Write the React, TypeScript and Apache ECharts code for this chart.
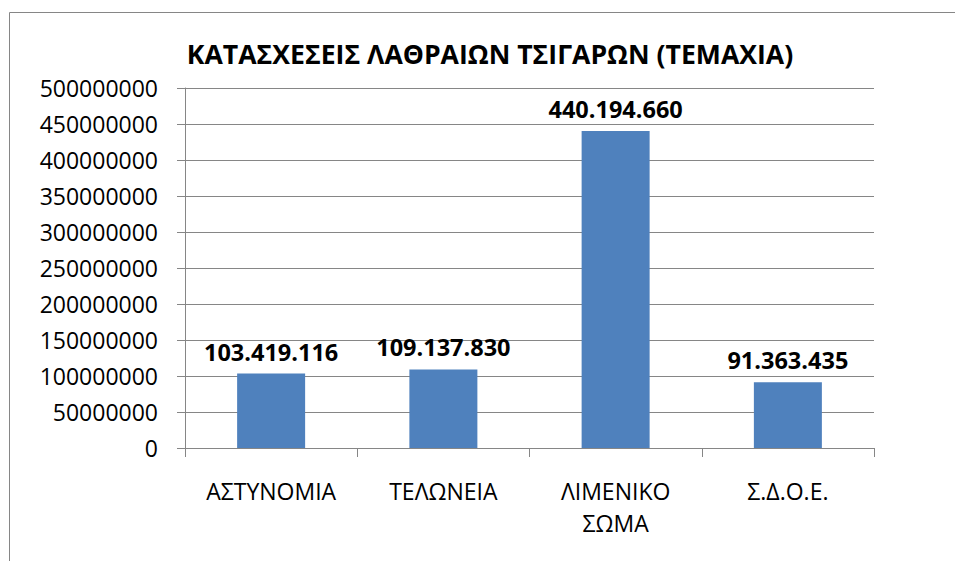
import React, { useEffect, useRef } from "react";
import * as echarts from "echarts";

const titleText = "ΚΑΤΑΣΧΕΣΕΙΣ ΛΑΘΡΑΙΩΝ ΤΣΙΓΑΡΩΝ (ΤΕΜΑΧΙΑ)";
const categories = ["ΑΣΤΥΝΟΜΙΑ", "ΤΕΛΩΝΕΙΑ", "ΛΙΜΕΝΙΚΟ ΣΩΜΑ", "Σ.Δ.Ο.Ε."];
const seizures = [103419116, 109137830, 440194660, 91363435];
const yMin = 0;
const yMax = 500000000;
const yStep = 50000000;

const FONT = "'Open Sans', 'Noto Sans', sans-serif";
const GRAY = "#868686";

function greekThousands(v: number): string {
  return String(v).replace(/\B(?=(\d{3})+(?!\d))/g, ".");
}

export default function App() {
  const ref = useRef<HTMLDivElement>(null);
  useEffect(() => {
    if (!ref.current) return;
    const chart = echarts.init(ref.current, null, { renderer: "svg" });
    chart.setOption({
      animation: false,
      backgroundColor: "#ffffff",
      title: {
        text: titleText,
        left: 485,
        top: 35,
        textAlign: "center",
        textStyle: {
          fontFamily: FONT,
          fontSize: 26.6,
          fontWeight: "bold",
          color: "#000000",
        },
      },
      graphic: [
        {
          type: "line",
          shape: { x1: 9.5, y1: 12.5, x2: 955, y2: 12.5 },
          style: { stroke: GRAY, lineWidth: 1 },
        },
        {
          type: "line",
          shape: { x1: 9.5, y1: 12.5, x2: 9.5, y2: 561 },
          style: { stroke: GRAY, lineWidth: 1 },
        },
      ],
      grid: { left: 185, top: 88, right: 81, bottom: 113, containLabel: false },
      xAxis: {
        type: "category",
        data: categories,
        boundaryGap: true,
        axisLine: { show: true, lineStyle: { color: GRAY, width: 1 } },
        axisTick: {
          show: true,
          alignWithLabel: false,
          length: 9,
          lineStyle: { color: GRAY, width: 1 },
        },
        axisLabel: {
          fontFamily: FONT,
          fontSize: 23,
          color: "#000000",
          margin: 27,
          lineHeight: 32,
          verticalAlign: "top",
          formatter: (v: string) => v.replace(" ", "\n"),
        },
      },
      yAxis: {
        type: "value",
        min: yMin,
        max: yMax,
        interval: yStep,
        axisLine: { show: true, lineStyle: { color: GRAY, width: 1 } },
        axisTick: { show: true, length: 8, lineStyle: { color: GRAY, width: 1 } },
        splitLine: { show: true, lineStyle: { color: GRAY, width: 1 } },
        axisLabel: {
          fontFamily: FONT,
          fontSize: 23,
          color: "#000000",
          margin: 27,
          formatter: (v: number) => String(v),
        },
      },
      series: [
        {
          type: "bar",
          data: seizures,
          barWidth: 68,
          itemStyle: { color: "#4F81BD" },
          label: {
            show: true,
            position: "top",
            distance: 10,
            fontFamily: FONT,
            fontSize: 23.5,
            fontWeight: "bold",
            color: "#000000",
            formatter: (p: any) => greekThousands(p.value),
          },
        },
      ],
    });
    return () => chart.dispose();
  }, []);
  return (
    <div
      ref={ref}
      style={{ position: "absolute", left: 0, top: 0, width: 955, height: 561 }}
    />
  );
}
